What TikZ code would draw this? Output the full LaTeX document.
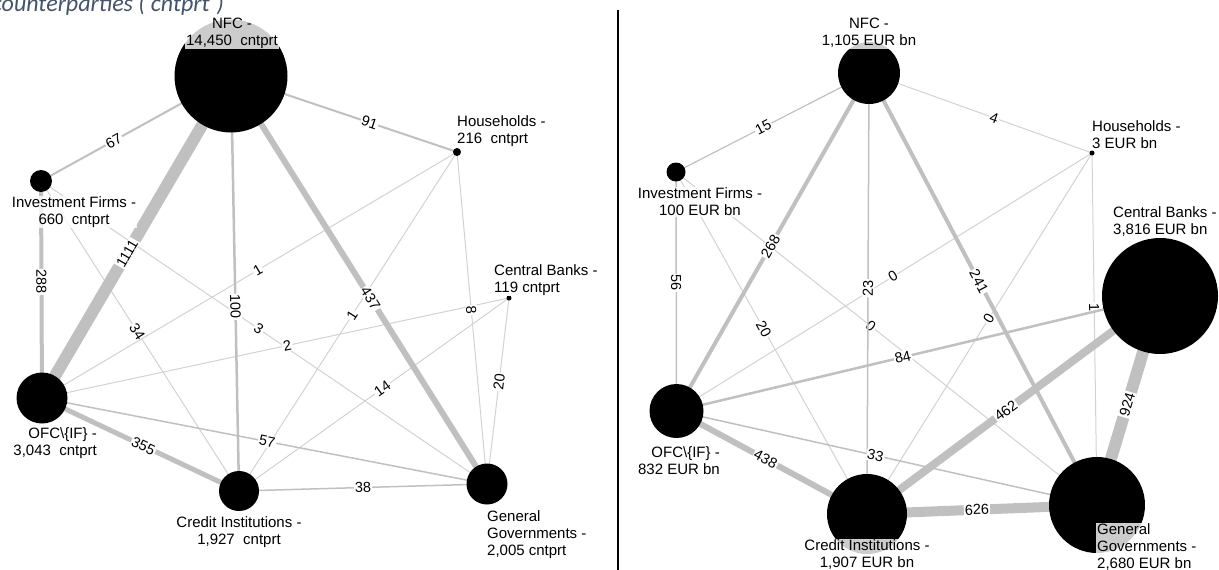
\documentclass[tikz,border=0pt]{standalone}
\usepackage{fontspec}
\setmainfont{Liberation Sans}
\newfontfamily\headfont{Carlito}
\usepackage{tikz}
\usepackage{xcolor}
\definecolor{linkgray}{RGB}{192,192,192}
\definecolor{faintgray}{RGB}{210,210,210}
\definecolor{headblue}{RGB}{68,84,106}

\begin{document}
\begin{tikzpicture}[x=1pt, y=-1pt,
  sector/.style={circle, fill=black, inner sep=0pt, minimum size=#1},
  tag/.style={font=\fontsize{15}{17}\selectfont, inner sep=1pt,
    fill=white, fill opacity=0.8, text opacity=1},
  flow/.style={draw=linkgray, line width=#1},
  faint/.style={draw=faintgray, line width=1pt},
  wt/.style={font=\fontsize{14.5}{16}\selectfont, fill=white,
    inner sep=1pt, sloped}]
  \useasboundingbox (0,0) rectangle (1219,570);
  \clip (0,0) rectangle (1219,570);
  % Heading (cut at the top)
  \node[anchor=base east, inner sep=0pt, text=headblue,
    font=\headfont\itshape\fontsize{24}{28}\selectfont] (head) at (224,11)
    {counterparties (‘cntprt’)};
  % Divider
  \draw[line width=2pt] (618,10) -- (618,570);

  % ---------- Left: counterparties ----------
  \coordinate (lnfc) at (231,76);
  \coordinate (lhh)  at (457,152);
  \coordinate (lif)  at (41,181);
  \coordinate (lcb)  at (509,298);
  \coordinate (lofc) at (42,398);
  \coordinate (lci)  at (239,491);
  \coordinate (lgg)  at (487,484);
  % Links
  \draw[faint] (lif) -- node[wt, pos=.486] {34} (lci);
  \draw[faint] (lif) -- node[wt, pos=.488] {3} (lgg);
  \draw[faint] (lofc) -- node[wt, pos=.525] {2} (lcb);
  \draw[faint] (lofc) -- node[wt, pos=.52] {1} (lhh);
  \draw[faint] (lci) -- node[wt, pos=.519] {1} (lhh);
  \draw[faint] (lhh) -- node[wt, pos=.476] {8} (lgg);
  \draw[faint] (lci) -- node[wt, pos=.531] {14} (lcb);
  \draw[faint] (lgg) -- node[wt, pos=.549] {20} (lcb);
  \draw[flow=1.5pt] (lofc) -- node[wt, pos=.506] {57} (lgg);
  \draw[flow=1.5pt] (lci) -- node[wt, pos=.5] {38} (lgg);
  \draw[flow=2pt] (lif) -- node[wt, pos=.383] {67} (lnfc);
  \draw[flow=2pt] (lnfc) -- node[wt, pos=.613] {91} (lhh);
  \draw[flow=2.5pt] (lnfc) -- node[wt, pos=.556] {100} (lci);
  \draw[flow=4pt] (lif) -- node[wt, pos=.465] {288} (lofc);
  \draw[flow=5pt] (lofc) -- node[wt, pos=.515] {355} (lci);
  \draw[flow=6pt] (lnfc) -- node[wt, pos=.545] {437} (lgg);
  \draw[flow=12pt] (lofc) -- node[wt, pos=.45] {1111} (lnfc);
  % Sectors
  \node[sector=113pt] (lnfcdot) at (lnfc) {};
  \node[sector=8pt] (lhhdot) at (lhh) {};
  \node[sector=22pt] (lifdot) at (lif) {};
  \node[sector=5pt] (lcbdot) at (lcb) {};
  \node[sector=51pt] (lofcdot) at (lofc) {};
  \node[sector=40pt] (lcidot) at (lci) {};
  \node[sector=41pt] (lggdot) at (lgg) {};
  % Names
  \node[tag, align=center] (lnfctag) at (232,33) {NFC -\\14,450\ \ cntprt};
  \node[tag, align=left, anchor=west] (lhhtag) at (456,131)
    {Households -\\216\ \ cntprt};
  \node[tag, align=center] (liftag) at (74,212)
    {Investment Firms -\\660\ \ cntprt};
  \node[tag, align=left, anchor=west] (lcbtag) at (493,280)
    {Central Banks -\\119 cntprt};
  \node[tag, align=right, anchor=east] (lofctag) at (98,443)
    {OFC\textbackslash\{IF\} -\\3,043\ \ cntprt};
  \node[tag, align=center] (lcitag) at (239,532)
    {Credit Institutions -\\1,927\ \ cntprt};
  \node[tag, align=left, anchor=west] (lggtag) at (486,535)
    {General\\Governments -\\2,005 cntprt};

  % ---------- Right: EUR bn ----------
  \coordinate (rnfc) at (869,73);
  \coordinate (rhh)  at (1092,153);
  \coordinate (rif)  at (676,172);
  \coordinate (rcb)  at (1160,296);
  \coordinate (rofc) at (676.5,411);
  \coordinate (rci)  at (867,514);
  \coordinate (rgg)  at (1097,505);
  % Links
  \draw[faint] (rnfc) -- node[wt, pos=.561] {4} (rhh);
  \draw[faint] (rif) -- node[wt, pos=.459] {20} (rci);
  \draw[faint] (rif) -- node[wt, pos=.463] {0} (rgg);
  \draw[faint] (rofc) -- node[wt, pos=.521] {0} (rhh);
  \draw[faint] (rci) -- node[wt, pos=.541] {0} (rhh);
  \draw[faint] (rhh) -- node[wt, pos=.4375] {1} (rgg);
  \draw[flow=1.2pt] (rif) -- node[wt, pos=.452] {15} (rnfc);
  \draw[flow=1.5pt] (rnfc) -- node[wt, pos=.488] {23} (rci);
  \draw[flow=1.5pt] (rif) -- node[wt, pos=.464] {56} (rofc);
  \draw[flow=1.5pt] (rofc) -- node[wt, pos=.473] {33} (rgg);
  \draw[flow=2.5pt] (rofc) -- node[wt, pos=.468] {84} (rcb);
  \draw[flow=4pt] (rofc) -- node[wt, pos=.488] {268} (rnfc);
  \draw[flow=4pt] (rnfc) -- node[wt, pos=.482] {241} (rgg);
  \draw[flow=6pt] (rofc) -- node[wt, pos=.468] {438} (rci);
  \draw[flow=8pt] (rci) -- node[wt, pos=.474] {462} (rcb);
  \draw[flow=10pt] (rci) -- node[wt, pos=.478] {626} (rgg);
  \draw[flow=12pt] (rgg) -- node[wt, pos=.48] {924} (rcb);
  % Sectors
  \node[sector=62pt] (rnfcdot) at (rnfc) {};
  \node[sector=5pt] (rhhdot) at (rhh) {};
  \node[sector=19pt] (rifdot) at (rif) {};
  \node[sector=116pt] (rcbdot) at (rcb) {};
  \node[sector=54pt] (rofcdot) at (rofc) {};
  \node[sector=80pt] (rcidot) at (rci) {};
  \node[sector=96pt] (rggdot) at (rgg) {};
  % Names
  \node[tag, align=center] (rnfctag) at (869,33) {NFC -\\1,105 EUR bn};
  \node[tag, align=left, anchor=west] (rhhtag) at (1091,135)
    {Households -\\3 EUR bn};
  \node[tag, align=center] (riftag) at (700,202)
    {Investment Firms -\\100 EUR bn};
  \node[tag, align=left, anchor=west] (rcbtag) at (1112,222)
    {Central Banks -\\3,816 EUR bn};
  \node[tag, align=right, anchor=east] (rofctag) at (721,461)
    {OFC\textbackslash\{IF\} -\\832 EUR bn};
  \node[tag, align=center] (rcitag) at (867,555)
    {Credit Institutions -\\1,907 EUR bn};
  \node[tag, align=left, anchor=west] (rggtag) at (1096,547)
    {General\\Governments -\\2,680 EUR bn};
\end{tikzpicture}
\end{document}
